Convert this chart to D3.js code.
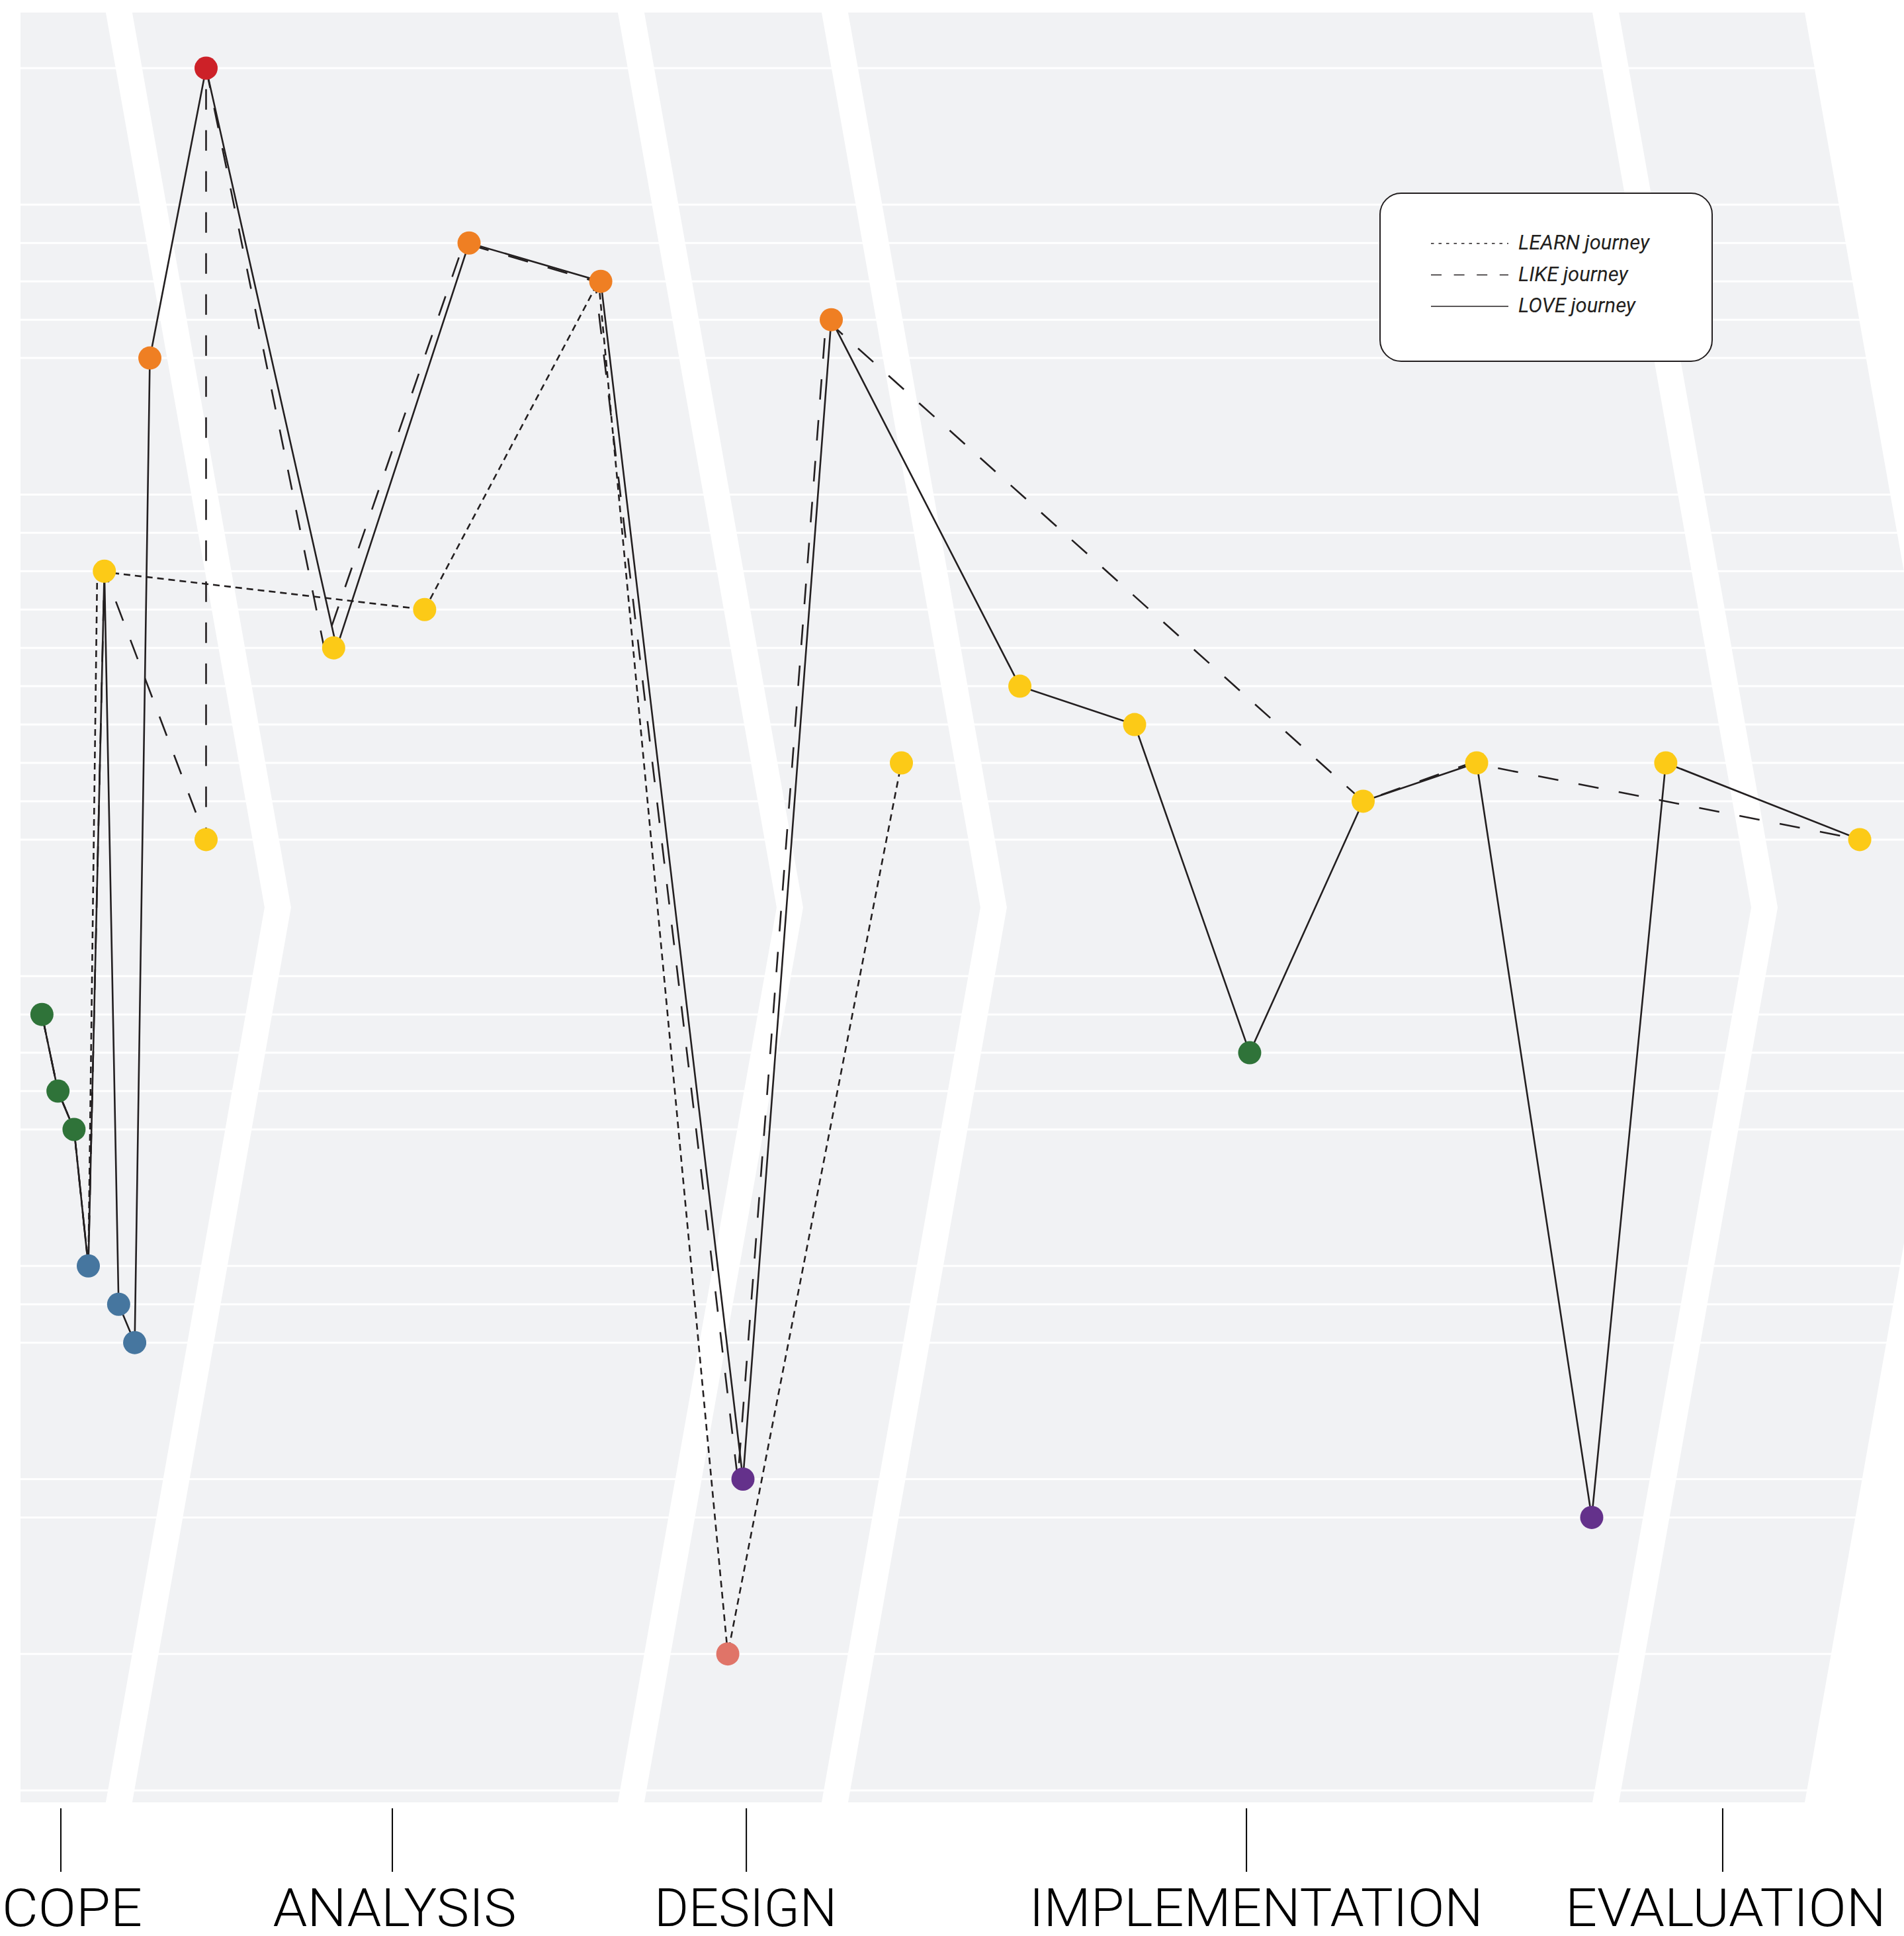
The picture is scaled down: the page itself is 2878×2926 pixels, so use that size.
<!DOCTYPE html>
<html>
<head>
<meta charset="utf-8">
<script src="https://cdn.jsdelivr.net/npm/d3@7"></script>
<style>
  html, body { margin: 0; padding: 0; background: #fff; }
  svg { display: block; }
</style>
</head>
<body>
<div id="chart"></div>
<script>
// mood scale (top = best), grouped by colour
const moodGroups = ['red', 'orange', 'yellow', 'green', 'blue', 'purple', 'pink', 'base'];
const moodLevels = [1, 5, 10, 5, 3, 2, 1, 1];
const moodColors = ['#cd2128', '#ef7f23', '#fcca17', '#2f7339', '#46769f', '#64318b', '#e07468', 'none'];

// phases along the timeline (0-100)
const phases     = ['SCOPE', 'ANALYSIS', 'DESIGN', 'IMPLEMENTATION', 'EVALUATION'];
const phaseEnds  = [4.78, 33.48, 44.9, 88.1, 100];
const phaseTicks = [2.26, 20.84, 40.68, 68.71, 95.4];

// touchpoints (dots)
const touchX    = [1.2, 2.1, 3.0, 3.8, 4.7, 5.5, 6.4, 7.25, 10.4, 10.4, 17.55, 22.65, 25.14, 32.52,
                   39.64, 40.49, 45.44, 49.37, 56.01, 62.44, 68.89, 75.25, 81.61, 88.06, 92.21, 103.08];
const touchMood = ['green:1', 'green:3', 'green:4', 'blue:0', 'yellow:2', 'blue:1', 'blue:2', 'orange:4',
                   'red:0', 'yellow:9', 'yellow:4', 'yellow:3', 'orange:1', 'orange:2', 'pink:0', 'purple:0',
                   'orange:3', 'yellow:7', 'yellow:5', 'yellow:6', 'green:2', 'yellow:8', 'yellow:7',
                   'purple:1', 'yellow:7', 'yellow:9'];

// journeys
const loveX    = [1.2, 2.1, 3.0, 3.8, 4.7, 5.5, 6.4, 7.25, 10.4, 17.72, 25.14, 32.52, 40.49, 45.44,
                  56.01, 62.44, 68.89, 75.25, 81.61, 88.06, 92.21, 103.08];
const loveMood = ['green:1', 'green:3', 'green:4', 'blue:0', 'yellow:2', 'blue:1', 'blue:2', 'orange:4',
                  'red:0', 'yellow:4', 'orange:1', 'orange:2', 'purple:0', 'orange:3', 'yellow:5',
                  'yellow:6', 'green:2', 'yellow:8', 'yellow:7', 'purple:1', 'yellow:7', 'yellow:9'];
const likeX    = [1.2, 2.1, 3.0, 3.8, 4.7, 10.4, 10.4, 17.02, 24.85, 32.2, 40.2, 45.15, 75.25, 81.3, 103.08];
const likeMood = ['green:1', 'green:3', 'green:4', 'blue:0', 'yellow:2', 'yellow:9', 'red:0', 'yellow:4',
                  'orange:1', 'orange:2', 'purple:0', 'orange:3', 'yellow:8', 'yellow:7', 'yellow:9'];
const learnX    = [1.2, 2.1, 3.0, 3.8, 4.3, 22.65, 32.4, 39.64, 49.37];
const learnMood = ['green:1', 'green:3', 'green:4', 'blue:0', 'yellow:2', 'yellow:3', 'orange:2', 'pink:0', 'yellow:7'];

const legendNames = ['LEARN journey', 'LIKE journey', 'LOVE journey'];

const width = 2878, height = 2926;
const ink = '#231f20';
const labelWidths  = [262, 368, 276, 686, 485];
const labelOffsets = [-8, 3.5, -1, 14.6, 4.5];

const svg = d3.select('#chart').append('svg')
    .attr('width', width)
    .attr('height', height);

// rank of every mood level, with a wider gap between colour groups
const groupGap = 3.56;
const moodRank = {};
let rank = 0;
moodGroups.forEach((g, gi) => {
    if (gi > 0) rank += groupGap - 1;
    for (let l = 0; l < moodLevels[gi]; l++) {
        moodRank[g + ':' + l] = rank;
        rank += 1;
    }
});
const maxRank = rank - 1;

const x = d3.scaleLinear().domain([0, 100]).range([31, 2728]);
const y = d3.scaleLinear().domain([0, maxRank]).range([103, 2706]);
const color = d3.scaleOrdinal().domain(moodGroups).range(moodColors);

// chevron phase panels
const panelTop = 19, panelBottom = 2724, panelMid = (panelTop + panelBottom) / 2;
const depth = 240, bandGap = 40;
const panels = phaseEnds.map((e, i) => {
    const L = i === 0 ? x(0) : x(phaseEnds[i - 1]) + bandGap;
    const R = x(e);
    const pts = [[L, panelTop], [R, panelTop], [R + depth, panelMid], [R, panelBottom], [L, panelBottom]];
    if (i > 0) pts.push([L + depth, panelMid]);
    return pts;
});
svg.selectAll('polygon.panel')
    .data(panels)
    .enter()
    .append('polygon')
    .attr('class', 'panel')
    .attr('points', d => d.map(p => p.join(',')).join(' '))
    .attr('fill', '#f1f2f4');

// white grid lines at each mood level
svg.selectAll('line.grid')
    .data(Object.values(moodRank))
    .enter()
    .append('line')
    .attr('class', 'grid')
    .attr('x1', x(0))
    .attr('x2', width)
    .attr('y1', d => y(d))
    .attr('y2', d => y(d))
    .attr('stroke', '#fff')
    .attr('stroke-width', 3);

// journeys
const line = d3.line()
    .x(d => x(d[0]))
    .y(d => y(moodRank[d[1]]));

const journeys = [
    { xs: learnX, moods: learnMood, dash: '10,7' },
    { xs: likeX, moods: likeMood, dash: '31,31' },
    { xs: loveX, moods: loveMood, dash: null }
];
svg.selectAll('path.journey')
    .data(journeys)
    .enter()
    .append('path')
    .attr('class', 'journey')
    .attr('d', d => line(d.xs.map((v, i) => [v, d.moods[i]])))
    .attr('fill', 'none')
    .attr('stroke', ink)
    .attr('stroke-width', 2.6)
    .attr('stroke-dasharray', d => d.dash);

// touchpoint dots
svg.selectAll('circle.touch')
    .data(touchX.map((v, i) => ({ x: v, mood: touchMood[i] })))
    .enter()
    .append('circle')
    .attr('class', 'touch')
    .attr('cx', d => x(d.x))
    .attr('cy', d => y(moodRank[d.mood]))
    .attr('r', 17.5)
    .attr('fill', d => color(d.mood.split(':')[0]));

// legend
const legend = svg.append('g').attr('transform', 'translate(2086,292)');
legend.append('rect')
    .attr('width', 502)
    .attr('height', 254)
    .attr('rx', 32)
    .attr('fill', '#fff')
    .attr('stroke', ink)
    .attr('stroke-width', 2);
const legendDash = ['4.5,7', '16,18.6', null];
legendNames.forEach((name, i) => {
    const ly = 76 + i * 47.5;
    legend.append('line')
        .attr('x1', 77).attr('x2', 194)
        .attr('y1', ly).attr('y2', ly)
        .attr('stroke', ink)
        .attr('stroke-width', 1.6)
        .attr('stroke-dasharray', legendDash[i]);
    legend.append('text')
        .attr('x', 209)
        .attr('y', ly + 9)
        .attr('font-family', 'Roboto, "Open Sans", sans-serif')
        .attr('font-style', 'italic')
        .attr('font-size', 31)
        .attr('fill', ink)
        .text(name);
});

// phase ticks and labels
svg.selectAll('line.tick')
    .data(phaseTicks)
    .enter()
    .append('line')
    .attr('class', 'tick')
    .attr('x1', d => x(d)).attr('x2', d => x(d))
    .attr('y1', 2733).attr('y2', 2829)
    .attr('stroke', '#000')
    .attr('stroke-width', 2);

svg.selectAll('text.phase')
    .data(phases)
    .enter()
    .append('text')
    .attr('class', 'phase')
    .attr('x', (d, i) => x(phaseTicks[i]) + labelOffsets[i])
    .attr('y', 2911)
    .attr('text-anchor', 'middle')
    .attr('font-family', 'Roboto, "Open Sans", sans-serif')
    .attr('font-weight', 300)
    .attr('font-size', 79)
    .attr('fill', '#000')
    .attr('textLength', (d, i) => labelWidths[i])
    .attr('lengthAdjust', 'spacingAndGlyphs')
    .text(d => d);
</script>
</body>
</html>
